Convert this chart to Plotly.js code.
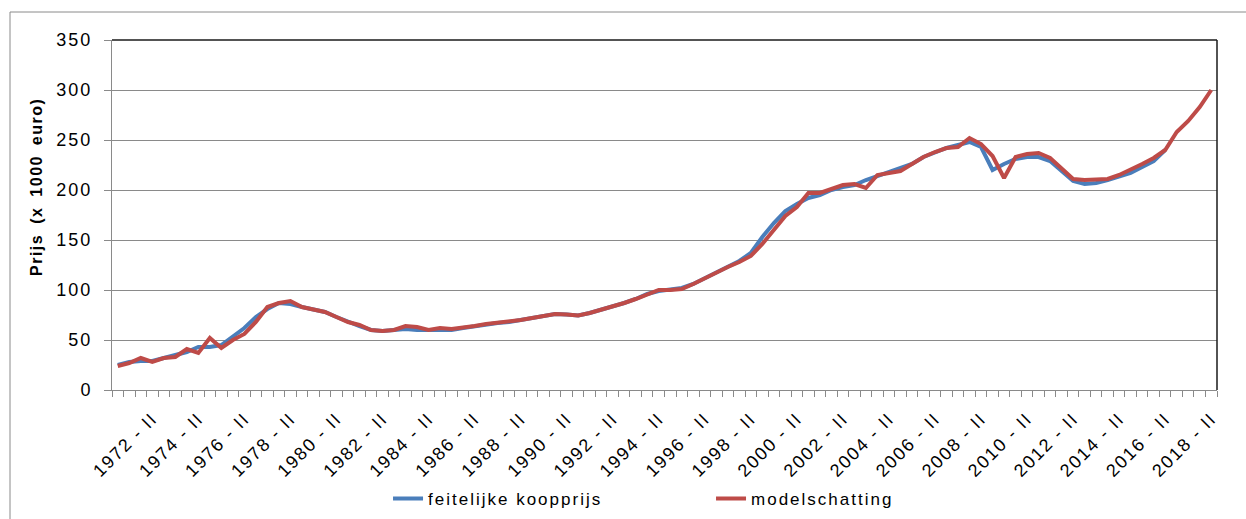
<!DOCTYPE html>
<html><head><meta charset="utf-8">
<script src="https://cdn.plot.ly/plotly-3.0.1.min.js"></script>
<style>
html,body{margin:0;padding:0;background:#fff;}
#chart{width:1246px;height:519px;}
.xtick text{letter-spacing:1.8px;}
.ytick text{letter-spacing:2px;}
.legendtext{letter-spacing:2px;}
.annotation-text{letter-spacing:1.5px;word-spacing:4px;}
</style></head><body><div id="chart"></div><script>
const categories = [
"1971 - I","1971 - II","1972 - I","1972 - II","1973 - I","1973 - II","1974 - I","1974 - II",
"1975 - I","1975 - II","1976 - I","1976 - II","1977 - I","1977 - II","1978 - I","1978 - II",
"1979 - I","1979 - II","1980 - I","1980 - II","1981 - I","1981 - II","1982 - I","1982 - II",
"1983 - I","1983 - II","1984 - I","1984 - II","1985 - I","1985 - II","1986 - I","1986 - II",
"1987 - I","1987 - II","1988 - I","1988 - II","1989 - I","1989 - II","1990 - I","1990 - II",
"1991 - I","1991 - II","1992 - I","1992 - II","1993 - I","1993 - II","1994 - I","1994 - II",
"1995 - I","1995 - II","1996 - I","1996 - II","1997 - I","1997 - II","1998 - I","1998 - II",
"1999 - I","1999 - II","2000 - I","2000 - II","2001 - I","2001 - II","2002 - I","2002 - II",
"2003 - I","2003 - II","2004 - I","2004 - II","2005 - I","2005 - II","2006 - I","2006 - II",
"2007 - I","2007 - II","2008 - I","2008 - II","2009 - I","2009 - II","2010 - I","2010 - II",
"2011 - I","2011 - II","2012 - I","2012 - II","2013 - I","2013 - II","2014 - I","2014 - II",
"2015 - I","2015 - II","2016 - I","2016 - II","2017 - I","2017 - II","2018 - I","2018 - II"
];
const tickLabels = [
"1972 - II","1974 - II","1976 - II","1978 - II","1980 - II","1982 - II","1984 - II","1986 - II",
"1988 - II","1990 - II","1992 - II","1994 - II","1996 - II","1998 - II","2000 - II","2002 - II",
"2004 - II","2006 - II","2008 - II","2010 - II","2012 - II","2014 - II","2016 - II","2018 - II"
];
const feitelijkeKoopprijs = [
25,28,29,29,32,35,38,43,43,45,
53,62,73,81,87,86,83,80,78,73,
68,64,60,59,60,61,60,60,61,60,
62,64,66,67,68,70,72,74,76,75.5,
74.5,77,80,83,87,91,96,99,100,102,
106,112,117,124,129,137,153,167,179,186,
192,195,200,203,205,210,214,219,222,226,
233,238,242,245,248,243,220,226,231,233,
233,229,219,209,206,207,210,213,217,223,
229,240
];
const modelschatting = [
24,27,32,28,32,33,41,37,52,42,
50,56,68,83,87,89,83,81,78,73,
68,65,60,59,60,64,63,60,62,61,
62,64,66,67,68,70,72,74,76,75.5,
74.5,77,80,83,87,91,96,100,100,101,
106,112,117,123,128,134,146,160,174,183,
197,197,201,205,206,202,215,217,219,226,
233,238,242,243,252,246,234,212,233,236,
237,232,221,211,210,210,211,215,220,226,
232,240,258,269,283,300
];
const seriesNames = ["feitelijke koopprijs", "modelschatting"];
const yTitle = "Prijs (x 1000 euro)";

const FONT = "Liberation Sans, Arial, sans-serif";
const GRAY = "#8a8a8a";

const traces = [
  {x: categories.slice(0, feitelijkeKoopprijs.length), y: feitelijkeKoopprijs, name: seriesNames[0],
   type: "scatter", mode: "lines", line: {color: "#4a7ebb", width: 4}},
  {x: categories.slice(0, modelschatting.length), y: modelschatting, name: seriesNames[1],
   type: "scatter", mode: "lines", line: {color: "#be4b48", width: 4}}
];

const layout = {
  width: 1246, height: 519,
  margin: {l: 112, r: 29, t: 40, b: 129, autoexpand: false},
  paper_bgcolor: "#fff", plot_bgcolor: "#fff",
  font: {family: FONT, color: "#000"},
  showlegend: true,
  legend: {orientation: "h", x: 0.2498, xanchor: "left", y: -0.311, yanchor: "middle",
           font: {family: FONT, size: 17, color: "#000"}, entrywidth: 278, entrywidthmode: "pixels",
           bgcolor: "rgba(0,0,0,0)"},
  xaxis: {type: "category", range: [-0.5, categories.length - 0.5],
          tickmode: "array", tickvals: categories,
          ticktext: categories.map(c => tickLabels.includes(c) ? c : ""),
          tickson: "boundaries", ticks: "outside", ticklen: 6, tickcolor: GRAY, tickwidth: 1,
          showline: true, linecolor: GRAY, linewidth: 1, showgrid: false, zeroline: false,
          ticklabelstandoff: 10,
          tickangle: -45, tickfont: {family: FONT, size: 18, color: "#000"}, fixedrange: true},
  yaxis: {range: [0, 350], dtick: 50, tick0: 0, ticks: "outside", ticklen: 7, tickcolor: GRAY,
          showline: true, linecolor: GRAY, linewidth: 1, showgrid: true, gridcolor: GRAY, gridwidth: 1,
          zeroline: false, ticklabelstandoff: 8,
          tickfont: {family: FONT, size: 18, color: "#000"}, fixedrange: true},
  annotations: [{text: "<b>" + yTitle + "</b>", xref: "paper", yref: "paper", x: -0.0688, y: 0.58,
                 xanchor: "center", yanchor: "middle", textangle: -90, showarrow: false,
                 font: {family: FONT, size: 16, color: "#000"}}],
  shapes: [
    {type: "line", xref: "paper", yref: "paper", x0: 0, x1: 1, y0: 1, y1: 1, line: {color: "#1a1a1a", width: 1.5}},
    {type: "line", xref: "paper", yref: "paper", x0: 1, x1: 1, y0: 0, y1: 1, line: {color: "#1a1a1a", width: 1.5}},
    {type: "rect", xref: "paper", yref: "paper", x0: -0.0923, x1: 1.04, y0: -0.4, y1: 1.08,
     line: {color: "#8a8a8a", width: 1}, layer: "below"}
  ]
};

Plotly.newPlot("chart", traces, layout, {displayModeBar: false, staticPlot: true});
</script></body></html>
